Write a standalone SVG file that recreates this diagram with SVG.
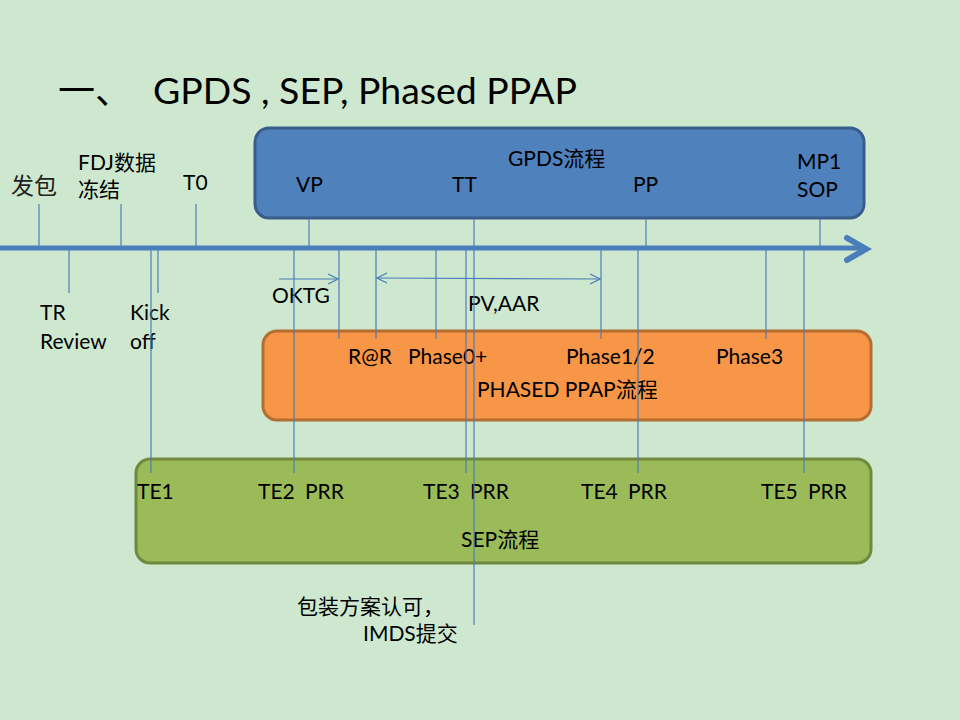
<svg xmlns="http://www.w3.org/2000/svg" width="960" height="720" viewBox="0 0 960 720">
<style>
text{font-family:Lato,"Noto Sans CJK SC",sans-serif;fill:#000;}
.l{font-size:21px;}
.t{font-size:23px;fill:#222;}
.v{stroke:#4a7ebb;stroke-width:1.2;fill:none;}
.box{stroke-width:3;}
</style>
<defs>
<marker id="ah" viewBox="0 0 12 12" refX="11" refY="6" markerWidth="12" markerHeight="12" markerUnits="userSpaceOnUse" orient="auto-start-reverse">
<path d="M1,1 L11,6 L1,11" fill="none" stroke="#4a7ebb" stroke-width="1.2"/>
</marker>
</defs>
<rect width="960" height="720" fill="#cde8cf"/>
<text x="58" y="104" style="font-size:37px">一、</text>
<text x="153" y="104" style="font-size:37.5px" textLength="424" lengthAdjust="spacingAndGlyphs">GPDS , SEP, Phased PPAP</text>

<g id="gpds">
<rect class="box" x="255" y="128" width="609" height="90" rx="14" fill="#4f81bd" stroke="#385d8a"/>
<text class="l" x="508" y="166">GPDS流程</text>
<text class="l" x="296" y="192">VP</text>
<text class="l" x="452" y="192">TT</text>
<text class="l" x="633" y="192">PP</text>
<text class="l" x="797" y="169">MP1</text>
<text class="l" x="797" y="197">SOP</text>
</g>
<g id="ppap">
<rect class="box" x="263" y="331" width="608" height="89" rx="14" fill="#f79646" stroke="#b66d31"/>
<text class="l" x="348" y="364">R@R</text>
<text class="l" x="408" y="364">Phase0+</text>
<text class="l" x="566" y="364">Phase1/2</text>
<text class="l" x="716" y="364">Phase3</text>
<text class="l" x="477" y="397">PHASED PPAP流程</text>
</g>
<g id="sep">
<rect class="box" x="136" y="459" width="735" height="104" rx="14" fill="#9bbb59" stroke="#71893f"/>
<text class="l" x="137" y="499">TE1</text>
<text class="l" x="258" y="499">TE2</text>
<text class="l" x="305" y="499">PRR</text>
<text class="l" x="423" y="499">TE3</text>
<text class="l" x="470" y="499">PRR</text>
<text class="l" x="581" y="499">TE4</text>
<text class="l" x="628" y="499">PRR</text>
<text class="l" x="761" y="499">TE5</text>
<text class="l" x="808" y="499">PRR</text>
<text class="l" x="461" y="547">SEP流程</text>
</g>
<g id="labels">
<text class="t" x="11" y="194">发包</text>
<text class="l" x="78" y="170">FDJ数据</text>
<text class="l" x="78" y="197">冻结</text>
<text class="l" x="183" y="190">T0</text>
<text class="l" x="40" y="320">TR</text>
<text class="l" x="40" y="349">Review</text>
<text class="l" x="130" y="320">Kick</text>
<text class="l" x="130" y="349">off</text>
<text class="l" x="272" y="303">OKTG</text>
<text class="l" x="468" y="311">PV,AAR</text>
<text class="l" x="297" y="614">包装方案认可，</text>
<text class="l" x="363" y="641">IMDS提交</text>
</g>
<g id="connectors">
<line x1="0" y1="248" x2="864" y2="248" stroke="#4a7ebb" stroke-width="5"/>
<path d="M847,238 L866,249 L847,260" fill="none" stroke="#4a7ebb" stroke-width="6" stroke-linecap="round" stroke-linejoin="miter"/>
<line class="v" x1="39" y1="204" x2="39" y2="247"/>
<line class="v" x1="121" y1="204" x2="121" y2="247"/>
<line class="v" x1="196" y1="204" x2="196" y2="247"/>
<line class="v" x1="309" y1="219" x2="309" y2="247"/>
<line class="v" x1="646" y1="219" x2="646" y2="247"/>
<line class="v" x1="820" y1="219" x2="820" y2="247"/>
<line class="v" x1="474" y1="219" x2="474" y2="625"/>
<line class="v" x1="69" y1="250" x2="69" y2="293"/>
<line class="v" x1="158" y1="250" x2="158" y2="293"/>
<line class="v" x1="151" y1="250" x2="151" y2="473"/>
<line class="v" x1="294" y1="250" x2="294" y2="473"/>
<line class="v" x1="466" y1="250" x2="466" y2="473"/>
<line class="v" x1="638" y1="250" x2="638" y2="473"/>
<line class="v" x1="804" y1="250" x2="804" y2="473"/>
<line class="v" x1="339" y1="250" x2="339" y2="339"/>
<line class="v" x1="376" y1="250" x2="376" y2="339"/>
<line class="v" x1="436" y1="250" x2="436" y2="339"/>
<line class="v" x1="601" y1="250" x2="601" y2="339"/>
<line class="v" x1="766" y1="250" x2="766" y2="339"/>
<line class="v" x1="279" y1="279" x2="338" y2="279" marker-end="url(#ah)"/>
<line class="v" x1="377" y1="278" x2="600" y2="279" marker-start="url(#ah)" marker-end="url(#ah)"/>
</g>
</svg>
